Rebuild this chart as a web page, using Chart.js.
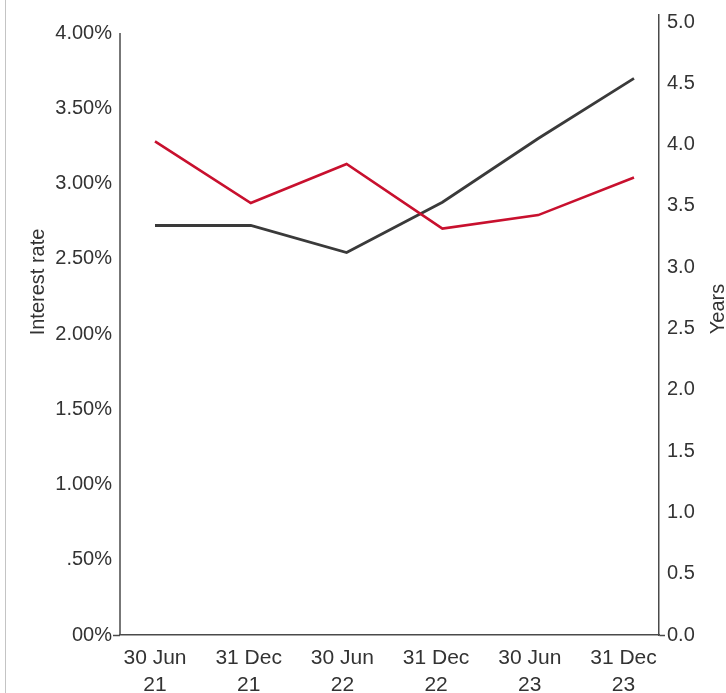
<!DOCTYPE html>
<html>
<head>
<meta charset="utf-8">
<script src="https://cdn.jsdelivr.net/npm/chart.js@4/dist/chart.umd.min.js"></script>
<style>
  html, body { margin: 0; padding: 0; background: #fff; }
  #wrap { position: relative; width: 726px; height: 693px; }
  #edge { position: absolute; left: 5px; top: 0; width: 1px; height: 693px; background: #c4c4c4; }
  canvas { position: absolute; left: 0; top: 0; }
</style>
</head>
<body>
<div id="wrap">
  <div id="edge"></div>
  <canvas id="chart" width="726" height="693"></canvas>
</div>
<script>
// Reporting dates (two-line labels)
const categories = [
  ['30 Jun', '21'], ['31 Dec', '21'], ['30 Jun', '22'],
  ['31 Dec', '22'], ['30 Jun', '23'], ['31 Dec', '23']
];
// Average interest rate, % (left axis)
const interestRate = [3.28, 2.87, 3.13, 2.70, 2.79, 3.04];
// Average term, years (right axis)
const years = [3.34, 3.34, 3.12, 3.53, 4.05, 4.54];
// Axis tick labels, one per 0.5 step from zero
const rateTickLabels = ['00%', '.50%', '1.00%', '1.50%', '2.00%', '2.50%', '3.00%', '3.50%', '4.00%'];
const yearTickLabels = ['0.0', '0.5', '1.0', '1.5', '2.0', '2.5', '3.0', '3.5', '4.0', '4.5', '5.0'];

const STEP = 0.5;
const RATE_TOP = (rateTickLabels.length - 1) * STEP;
const YEAR_TOP = (yearTickLabels.length - 1) * STEP;

const FONT = "'Liberation Sans', Arial, Helvetica, sans-serif";
const TEXT = '#333333';
const AXIS = '#4a4a4a';

const toPoints = arr => arr.map((v, i) => ({ x: i, y: v }));

function keepSteps(step, lo, hi) {
  return scale => {
    scale.ticks = scale.ticks.filter(t => {
      const k = t.value / step;
      return Math.abs(k - Math.round(k)) < 1e-6 && t.value >= lo - 1e-9 && t.value <= hi + 1e-9;
    });
  };
}

function drawVerticalTitle(ctx, text, x, y) {
  ctx.save();
  ctx.fillStyle = TEXT;
  ctx.font = '20px ' + FONT;
  ctx.textAlign = 'center';
  ctx.textBaseline = 'middle';
  ctx.translate(x, y);
  ctx.rotate(-Math.PI / 2);
  ctx.fillText(text, 0, 0);
  ctx.restore();
}

// Left axis line stops at the top tick; axis titles read bottom-to-top
const decorations = {
  id: 'decorations',
  afterDraw(chart) {
    const { ctx, chartArea } = chart;
    const yl = chart.scales.y;
    ctx.save();
    ctx.strokeStyle = AXIS;
    ctx.lineWidth = 1.5;
    ctx.beginPath();
    ctx.moveTo(chartArea.left, yl.getPixelForValue(RATE_TOP));
    ctx.lineTo(chartArea.left, chartArea.bottom);
    ctx.stroke();
    ctx.restore();

    drawVerticalTitle(ctx, 'Interest rate', 38, 282);
    drawVerticalTitle(ctx, 'Years', 718, 309);
  }
};

new Chart(document.getElementById('chart'), {
  type: 'line',
  data: {
    datasets: [
      {
        label: 'Interest rate',
        data: toPoints(interestRate),
        borderColor: '#c8102e',
        borderWidth: 2.6,
        pointRadius: 0,
        tension: 0,
        xAxisID: 'xd',
        yAxisID: 'y'
      },
      {
        label: 'Years',
        data: toPoints(years),
        borderColor: '#3a3a3a',
        borderWidth: 2.8,
        pointRadius: 0,
        tension: 0,
        xAxisID: 'xd',
        yAxisID: 'y1'
      }
    ]
  },
  options: {
    responsive: false,
    animation: false,
    layout: { padding: { top: 15, left: 0, right: 0, bottom: 0 } },
    plugins: { legend: { display: false }, tooltip: { enabled: false } },
    scales: {
      x: {
        type: 'linear',
        position: 'bottom',
        min: -0.3735,
        max: 5.379,
        afterBuildTicks: keepSteps(1, 0, categories.length - 1),
        afterFit: s => { s.height = 58; },
        grid: { drawOnChartArea: false, drawTicks: false },
        border: { display: true, color: AXIS, width: 1.5 },
        ticks: {
          stepSize: 1,
          includeBounds: false,
          autoSkip: false,
          maxRotation: 0,
          minRotation: 0,
          padding: 10,
          color: TEXT,
          font: { family: FONT, size: 21, lineHeight: 1.286 },
          callback: v => categories[Math.round(v)]
        }
      },
      xd: {
        type: 'linear',
        position: 'bottom',
        display: false,
        min: -0.3653,
        max: 5.261
      },
      y: {
        type: 'linear',
        position: 'left',
        min: 0,
        max: 4.1196,
        afterBuildTicks: keepSteps(STEP, 0, RATE_TOP),
        afterFit: s => { s.width = 120; },
        grid: {
          drawOnChartArea: false,
          drawTicks: true,
          tickLength: 7,
          tickWidth: 1.5,
          tickColor: c => (c.tick && c.tick.value === 0 ? AXIS : 'rgba(0,0,0,0)')
        },
        border: { display: false },
        ticks: {
          stepSize: STEP,
          includeBounds: false,
          padding: 1,
          color: TEXT,
          font: { family: FONT, size: 20 },
          callback: v => rateTickLabels[Math.round(v / STEP)]
        }
      },
      y1: {
        type: 'linear',
        position: 'right',
        min: 0,
        max: 5.057,
        afterBuildTicks: keepSteps(STEP, 0, YEAR_TOP),
        afterFit: s => { s.width = 67; },
        grid: {
          drawOnChartArea: false,
          drawTicks: true,
          tickLength: 6,
          tickWidth: 1.5,
          tickColor: c => (c.tick && c.tick.value === 0 ? AXIS : 'rgba(0,0,0,0)')
        },
        border: { display: true, color: AXIS, width: 1.5 },
        ticks: {
          stepSize: STEP,
          includeBounds: false,
          padding: 2,
          color: TEXT,
          font: { family: FONT, size: 20 },
          callback: v => yearTickLabels[Math.round(v / STEP)]
        }
      }
    }
  },
  plugins: [decorations]
});
</script>
</body>
</html>
